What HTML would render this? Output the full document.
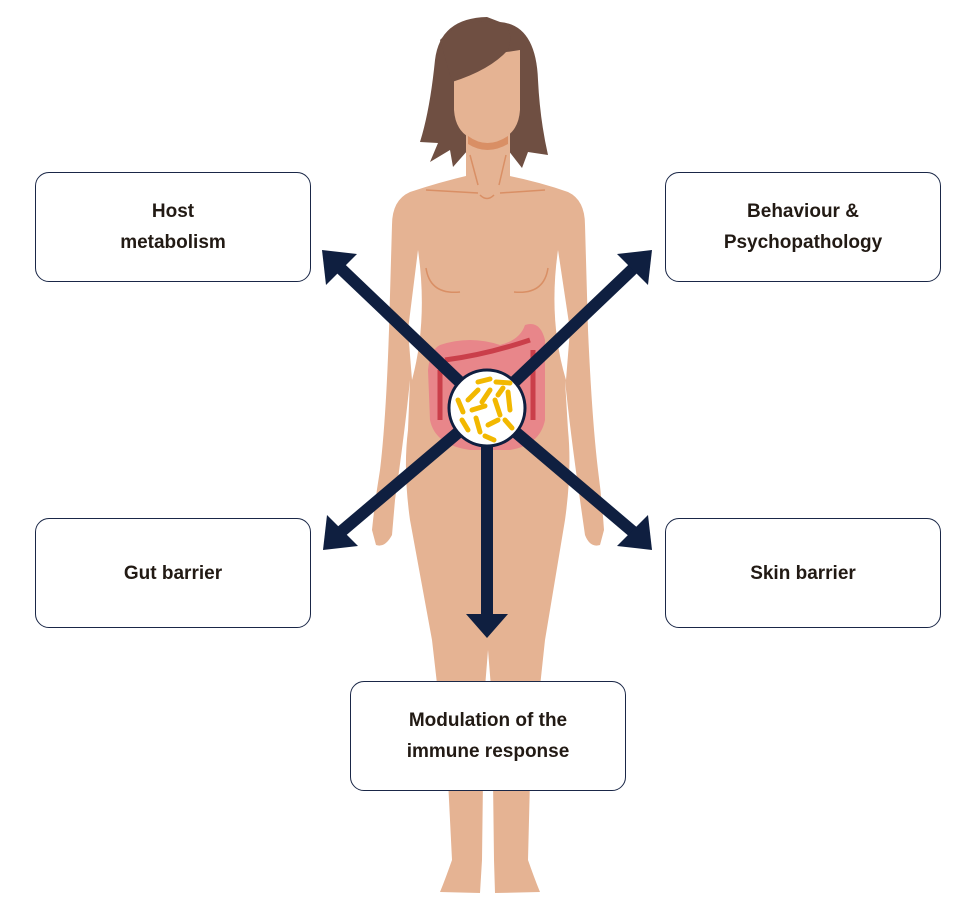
<!DOCTYPE html>
<html><head><style>
body{margin:0;background:#fff;width:980px;height:912px;overflow:hidden;position:relative;font-family:"Liberation Sans",sans-serif}
.box{position:absolute;width:276px;height:110px;border:1.5px solid #1a2747;border-radius:14px;background:#fff;display:flex;align-items:center;justify-content:center;text-align:center;font-weight:bold;font-size:19px;line-height:31px;color:#221a14;box-sizing:border-box}
svg{position:absolute;left:0;top:0}
</style></head><body>
<svg width="980" height="912" viewBox="0 0 980 912">
<!-- hair back -->
<path fill="#6f4f42" d="M487 17 Q440 18 435 60 Q430 110 420 142 L438 143 L430 162 L450 150 L453 167 L468 150 L508 150 L522 168 L528 152 L548 155 Q540 120 538 80 Q536 25 500 22 Z"/>
<g fill="#e5b393">
<rect x="466" y="120" width="44" height="80"/>
<path d="M410 192 Q440 182 470 175 L505 175 Q540 182 568 192 Q585 200 585 225 L588 330 Q592 420 598 470 Q602 500 604 530 L600 545 Q590 548 585 535 L580 500 Q570 430 565 380 L568 430 Q572 470 565 520 L545 640 L530 780 L528 860 Q535 880 540 892 L495 893 L494 860 L492 700 L488 650 L484 700 L482 860 L480 893 L440 892 Q445 880 452 860 L448 780 L432 640 L410 520 Q403 470 408 430 L410 380 Q405 430 395 500 L392 535 Q385 548 376 545 L372 530 Q375 500 380 470 Q386 420 389 330 L392 225 Q392 200 410 192Z"/>
<path d="M454 60 L520 50 L520 110 Q518 140 487 142 Q456 140 454 110Z"/>
</g>
<!-- bangs -->
<path fill="#6f4f42" d="M440 40 Q460 18 500 22 Q515 30 508 50 Q490 70 452 82 Z"/>
<g fill="#fff">
<path d="M418 250 Q428 320 412 380 L408 330Z"/>
<path d="M558 250 Q548 320 566 380 L570 330Z"/>
</g>
<path fill="#d98f65" d="M468 136 Q487 150 508 136 L508 144 Q487 156 468 144Z"/>
<g stroke="#d98f65" stroke-width="1.5" fill="none">
<path d="M426 268 Q430 295 460 292"/><path d="M548 268 Q544 295 514 292"/>
<path d="M426 190 L478 193 M500 193 L545 190"/>
<path d="M480 195 Q487 202 494 195"/>
<path d="M470 155 L478 185 M506 155 L499 185"/>
</g>
<!-- intestines -->
<path fill="#e8868a" d="M440 345 Q470 335 500 345 Q520 340 525 325 Q540 320 545 340 L545 420 Q540 445 510 450 L470 450 Q435 445 430 420 L428 370 Q430 350 440 345Z"/>
<path fill="none" stroke="#ca3f4a" stroke-width="5" d="M445 360 Q485 355 530 340 M440 370 L440 420 M533 350 L533 420"/>
<g stroke="#0f1f40" stroke-width="12" fill="none">
<line x1="487" y1="408" x2="336" y2="264"/>
<line x1="487" y1="408" x2="638" y2="264"/>
<line x1="487" y1="408" x2="336" y2="536"/>
<line x1="487" y1="408" x2="638" y2="536"/>
<line x1="487" y1="408" x2="487" y2="620"/>
</g>
<g fill="#0f1f40">
<polygon points="322,250 357,254 326,285"/>
<polygon points="652,250 617,254 648,285"/>
<polygon points="323,550 327,515 358,546"/>
<polygon points="652,550 617,546 648,515"/>
<polygon points="487,638 466,614 508,614"/>
</g>
<circle cx="487" cy="408" r="38" fill="#fff" stroke="#0f1f40" stroke-width="3"/>
<g stroke="#f2b800" stroke-width="5" stroke-linecap="round">
<line x1="478" y1="382" x2="490" y2="379"/><line x1="496" y1="382" x2="510" y2="383"/>
<line x1="468" y1="400" x2="478" y2="390"/><line x1="482" y1="402" x2="490" y2="390"/>
<line x1="498" y1="395" x2="503" y2="388"/><line x1="508" y1="392" x2="510" y2="410"/>
<line x1="458" y1="400" x2="463" y2="412"/><line x1="472" y1="410" x2="485" y2="406"/>
<line x1="495" y1="400" x2="500" y2="415"/><line x1="462" y1="420" x2="468" y2="430"/>
<line x1="476" y1="418" x2="480" y2="432"/><line x1="488" y1="425" x2="498" y2="420"/>
<line x1="505" y1="420" x2="512" y2="428"/><line x1="485" y1="436" x2="494" y2="440"/>
</g>
</svg>
<div class="box" style="left:35px;top:172px">Host<br>metabolism</div>
<div class="box" style="left:665px;top:172px">Behaviour &amp;<br>Psychopathology</div>
<div class="box" style="left:35px;top:518px">Gut barrier</div>
<div class="box" style="left:665px;top:518px">Skin barrier</div>
<div class="box" style="left:350px;top:681px">Modulation of the<br>immune response</div>
</body></html>
